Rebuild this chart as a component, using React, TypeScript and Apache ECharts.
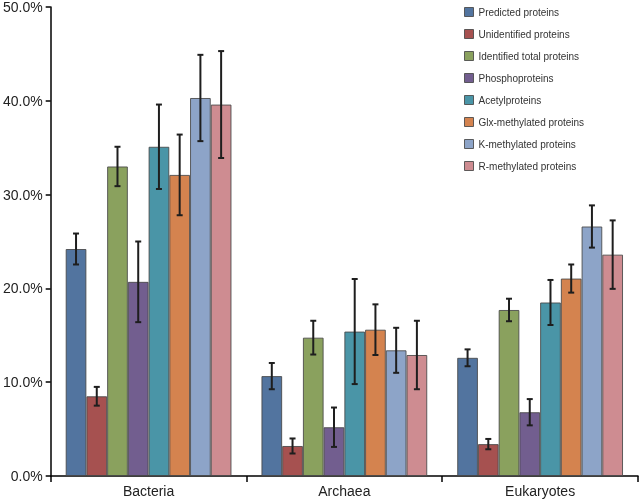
import React, { useEffect, useRef } from "react";
import * as echarts from "echarts";

const categories = ["Bacteria", "Archaea", "Eukaryotes"];
const seriesNames = [
  "Predicted proteins",
  "Unidentified proteins",
  "Identified total proteins",
  "Phosphoproteins",
  "Acetylproteins",
  "Glx-methylated proteins",
  "K-methylated proteins",
  "R-methylated proteins",
];
const colors = ["#52749F", "#A65150", "#8AA15E", "#725E8F", "#4A95A7", "#D4834F", "#8DA4C8", "#CE8C91"];
// values (%) per series: [Bacteria, Archaea, Eukaryotes]
const predicted = [24.2, 10.65, 12.6];
const unidentified = [8.5, 3.2, 3.4];
const identified = [33.0, 14.75, 17.7];
const phospho = [20.7, 5.2, 6.8];
const acetyl = [35.1, 15.4, 18.5];
const glx = [32.1, 15.6, 21.05];
const kMeth = [40.3, 13.4, 26.6];
const rMeth = [39.6, 12.9, 23.6];
// symmetric error (±%)
const predictedErr = [1.65, 1.4, 0.9];
const unidentifiedErr = [1.0, 0.8, 0.55];
const identifiedErr = [2.1, 1.8, 1.2];
const phosphoErr = [4.3, 2.1, 1.4];
const acetylErr = [4.5, 5.6, 2.4];
const glxErr = [4.3, 2.7, 1.5];
const kMethErr = [4.6, 2.4, 2.25];
const rMethErr = [5.7, 3.65, 3.65];

const allValues = [predicted, unidentified, identified, phospho, acetyl, glx, kMeth, rMeth];
const allErrors = [predictedErr, unidentifiedErr, identifiedErr, phosphoErr, acetylErr, glxErr, kMethErr, rMethErr];

const yTicks = [0, 10, 20, 30, 40, 50];
const CAT_GAP = 0.153;

export default function App() {
  const ref = useRef<HTMLDivElement>(null);
  useEffect(() => {
    if (!ref.current) return;
    const chart = echarts.init(ref.current, null, { renderer: "svg" });
    const nSeries = allValues.length;
    const barSeries = allValues.map((vals, i) => ({
      name: seriesNames[i],
      type: "bar",
      data: vals,
      barGap: "0%",
      barCategoryGap: (CAT_GAP * 100).toFixed(1) + "%",
      itemStyle: { color: colors[i], borderColor: "rgba(70,70,70,0.85)", borderWidth: 1 },
      z: 2,
    }));
    const errData: number[][] = [];
    allValues.forEach((vals, si) => {
      vals.forEach((v, ci) => {
        errData.push([ci, v - allErrors[si][ci], v + allErrors[si][ci], si]);
      });
    });
    const errSeries = {
      type: "custom",
      name: "errors",
      data: errData,
      z: 5,
      silent: true,
      renderItem: (params: any, api: any) => {
        const ci = api.value(0);
        const lo = api.value(1);
        const hi = api.value(2);
        const si = api.value(3);
        const band = api.size([1, 0])[0];
        const region = band * (1 - CAT_GAP);
        const bw = region / nSeries;
        const center = api.coord([ci, 0])[0];
        const x = center - region / 2 + (si + 0.5) * bw;
        const yLo = api.coord([ci, lo])[1];
        const yHi = api.coord([ci, hi])[1];
        const cap = 3;
        const style = { stroke: "#1e1e1e", lineWidth: 2 };
        return {
          type: "group",
          children: [
            { type: "line", shape: { x1: x, y1: yLo, x2: x, y2: yHi }, style },
            { type: "line", shape: { x1: x - cap, y1: yHi, x2: x + cap, y2: yHi }, style },
            { type: "line", shape: { x1: x - cap, y1: yLo, x2: x + cap, y2: yLo }, style },
          ],
        };
      },
    };
    chart.setOption({
      animation: false,
      textStyle: { fontFamily: "Liberation Sans, Arial, sans-serif" },
      grid: { left: 50, right: 2, top: 5, bottom: 25, containLabel: false },
      legend: {
        data: seriesNames,
        orient: "vertical",
        left: 459,
        top: 2,
        itemWidth: 9,
        itemHeight: 9,
        itemGap: 12,
        icon: "rect",
        textStyle: { fontSize: 10, color: "#333" },
        itemStyle: { borderColor: "rgba(70,70,70,0.85)", borderWidth: 1 },
      },
      xAxis: {
        type: "category",
        data: categories,
        axisLine: { lineStyle: { color: "#000", width: 1.5 } },
        axisTick: { show: true, length: 6, lineStyle: { color: "#000", width: 1.5 } },
        axisLabel: { fontSize: 14, color: "#222", margin: 8 },
      },
      yAxis: {
        type: "value",
        min: yTicks[0],
        max: yTicks[yTicks.length - 1],
        interval: 10,
        axisLine: { show: true, lineStyle: { color: "#000", width: 1.5 } },
        axisTick: { show: true, length: 5, lineStyle: { color: "#000", width: 1.5 } },
        splitLine: { show: false },
        axisLabel: { fontSize: 14, color: "#222", margin: 8, formatter: (v: number) => v.toFixed(1) + "%" },
      },
      series: [...barSeries, errSeries],
    });
    return () => chart.dispose();
  }, []);
  return <div ref={ref} style={{ position: "fixed", left: 0, top: 0, width: 640, height: 501 }} />;
}
